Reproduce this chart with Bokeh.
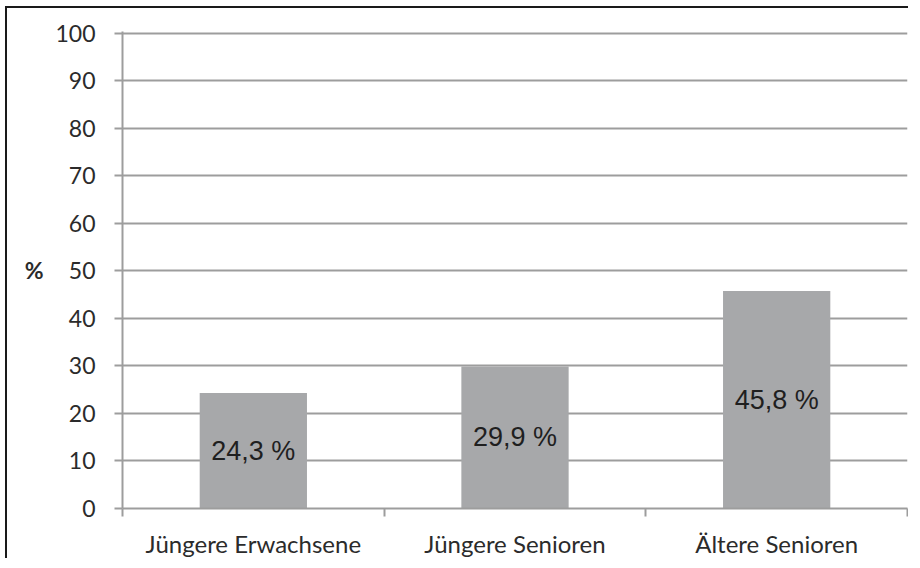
from bokeh.plotting import figure
from bokeh.models import ColumnDataSource, Range1d, FixedTicker, LabelSet
from bokeh.core.properties import value
from bokeh.embed import file_html
from bokeh.resources import INLINE

categories = ["Jüngere Erwachsene", "Jüngere Senioren", "Ältere Senioren"]
values = [24.3, 29.9, 45.8]
value_labels = ["24,3 %", "29,9 %", "45,8 %"]
y_ticks = [0, 10, 20, 30, 40, 50, 60, 70, 80, 90, 100]

xs = [i + 0.5 for i in range(len(categories))]
src = ColumnDataSource(dict(
    x=xs, top=values, mid=[v / 2 for v in values], lab=value_labels))

GRID = "#9d9d9d"

p = figure(width=903, height=552, output_backend="svg", toolbar_location=None,
           x_range=Range1d(0, len(categories)), y_range=Range1d(0, 100.4),
           min_border_left=115, min_border_right=3, min_border_top=23, min_border_bottom=52)
p.styles = {"border-left": "2px solid #1a1a1a", "border-top": "2px solid #1a1a1a",
            "margin-left": "5px", "margin-top": "6px"}
p.outline_line_color = None
p.background_fill_color = "white"
p.border_fill_color = "white"

p.vbar(x="x", top="top", width=0.41, source=src, fill_color="#a7a8aa", line_color=None)

p.add_layout(LabelSet(x="x", y="mid", text="lab", source=src, text_align="center",
                      text_baseline="middle", text_font=value("Liberation Sans"),
                      text_font_size="27px", text_color="#1f1f1f"))

# grid
p.xgrid.grid_line_color = None
p.ygrid.grid_line_color = GRID
p.ygrid.grid_line_width = 2
p.ygrid.ticker = FixedTicker(ticks=y_ticks)

# y axis
ya = p.yaxis[0]
ya.ticker = FixedTicker(ticks=y_ticks)
ya.axis_line_color = GRID
ya.axis_line_width = 2
ya.major_tick_line_color = GRID
ya.major_tick_line_width = 2
ya.major_tick_out = 8
ya.major_tick_in = 0
ya.minor_tick_line_color = None
ya.major_label_text_font = "Lato"
ya.major_label_text_font_size = "23px"
ya.major_label_text_color = "#2b2b2b"
ya.major_label_standoff = 19
ya.axis_label = "%"
ya.axis_label_orientation = "horizontal"
ya.axis_label_text_font = "Lato"
ya.axis_label_text_font_style = "bold"
ya.axis_label_text_font_size = "23px"
ya.axis_label_text_color = "#2b2b2b"
ya.axis_label_standoff = 9

# x axis
xa = p.xaxis[0]
xa.ticker = FixedTicker(ticks=xs, minor_ticks=list(range(len(categories) + 1)))
xa.major_label_overrides = {x: c for x, c in zip(xs, categories)}
xa.axis_line_color = GRID
xa.axis_line_width = 2
xa.major_tick_line_color = None
xa.major_tick_out = 8
xa.major_tick_in = 0
xa.minor_tick_line_color = GRID
xa.minor_tick_line_width = 2
xa.minor_tick_out = 8
xa.minor_tick_in = 0
xa.major_label_text_font = "Lato"
xa.major_label_text_font_size = "24px"
xa.major_label_text_color = "#2b2b2b"
xa.major_label_standoff = 12

open("out.html", "w").write(file_html(p, INLINE))
